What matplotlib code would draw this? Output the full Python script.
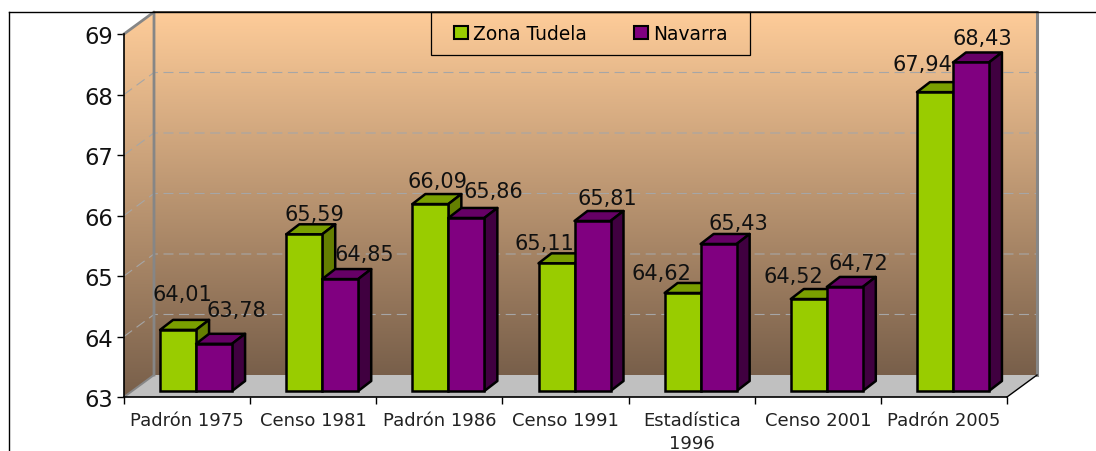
import numpy as np
import matplotlib.pyplot as plt
from matplotlib.lines import Line2D
from matplotlib.patches import Polygon, Rectangle

categorias = ['Padrón 1975', 'Censo 1981', 'Padrón 1986', 'Censo 1991',
              'Estadística\n1996', 'Censo 2001', 'Padrón 2005']
zona_tudela = [64.01, 65.59, 66.09, 65.11, 64.62, 64.52, 67.94]
navarra = [63.78, 64.85, 65.86, 65.81, 65.43, 64.72, 68.43]
etiquetas_y = [63, 64, 65, 66, 67, 68, 69]

# decalage des etiquettes en pixels par rapport au haut de la barre
decal_tudela = [(4, 36), (10, 20), (7, 23), (-12, 20), (-21, 20), (-15, 23), (-12, 28)]
decal_navarra = [(22, 34), (24, 25), (27, 27), (15, 23), (20, 21), (14, 24), (11, 24)]

W, H = 1096, 452
fig = plt.figure(figsize=(W / 100, H / 100), dpi=100, facecolor='white')
ax = fig.add_axes([124 / W, (H - 398) / H, 883 / W, 363 / H])
ax.patch.set_visible(False)

px_x = 883 / 7
px_y = 363 / 6
mur_dx, mur_dy = 30 / px_x, 22 / px_y      # profondeur du mur
pied_dx, pied_dy = 9 / px_x, 6 / px_y      # position des barres sur le sol
prof_dx, prof_dy = 13 / px_x, 10 / px_y    # profondeur des barres
larg = 36 / px_x

# degrade du fond
haut = np.array([254, 204, 153]) / 255
bas = np.array([120, 95, 74]) / 255
t = np.linspace(0, 1, 256)[:, None, None]
degrade = haut * (1 - t) + bas * t

ax.imshow(degrade, extent=(mur_dx, 7 + mur_dx, 63 + mur_dy, 69 + mur_dy),
          aspect='auto', clip_on=False, zorder=0)
mur_g = Polygon([(0, 63), (mur_dx, 63 + mur_dy), (mur_dx, 69 + mur_dy), (0, 69)],
                closed=True, facecolor='none', edgecolor='none', transform=ax.transData)
ax.add_patch(mur_g)
mur_g.set_clip_on(False)
im = ax.imshow(degrade, extent=(0, mur_dx, 63, 69 + mur_dy), aspect='auto', zorder=0)
im.set_clip_path(mur_g)
im.set_clip_box(fig.bbox)

# sol
ax.add_patch(Polygon([(0, 63), (7, 63), (7 + mur_dx, 63 + mur_dy), (mur_dx, 63 + mur_dy)],
                     closed=True, facecolor='#C0C0C0', edgecolor='none', zorder=1, clip_on=False))

# lignes de grille
for v in etiquetas_y[1:-1]:
    ax.plot([0, mur_dx, 7 + mur_dx], [v, v + mur_dy, v + mur_dy], color='#A6A6A6',
            lw=0.8, dashes=(9, 5), zorder=1.5, clip_on=False)

# bords du mur
gris = '#868686'
ax.plot([0, mur_dx, mur_dx], [69, 69 + mur_dy, 63 + mur_dy], color=gris, lw=2, zorder=2, clip_on=False)
ax.plot([0, mur_dx], [63, 63 + mur_dy], color=gris, lw=1.4, zorder=2, clip_on=False)
ax.plot([7 + mur_dx, 7 + mur_dx], [63 + mur_dy, 69 + mur_dy], color=gris, lw=2.2, zorder=2, clip_on=False)
ax.plot([7, 7 + mur_dx], [63, 63 + mur_dy], color='black', lw=1, zorder=2, clip_on=False)
ax.plot([mur_dx, 7 + mur_dx], [69 + mur_dy, 69 + mur_dy], color='#40382F', lw=1.2, zorder=2, clip_on=False)


def barre(x, val, face, dessus, cote, z):
    b = 63 + pied_dy
    s = val + pied_dy
    ax.bar(x, val - 63, width=larg, bottom=b, align='edge', color=face, edgecolor='black',
           linewidth=1.8, zorder=z + 0.2, clip_on=False)
    ax.add_patch(Polygon([(x, s), (x + larg, s), (x + larg + prof_dx, s + prof_dy), (x + prof_dx, s + prof_dy)],
                         closed=True, facecolor=dessus, edgecolor='black', lw=1.8,
                         joinstyle='round', zorder=z, clip_on=False))
    ax.add_patch(Polygon([(x + larg, b), (x + larg + prof_dx, b + prof_dy), (x + larg + prof_dx, s + prof_dy), (x + larg, s)],
                         closed=True, facecolor=cote, edgecolor='black', lw=1.8,
                         joinstyle='round', zorder=z, clip_on=False))


for i in range(len(categorias)):
    x1 = i + 0.5 + pied_dx - larg
    x2 = i + 0.5 + pied_dx
    barre(x1, zona_tudela[i], '#99CC00', '#7A9F00', '#647F00', 3)
    barre(x2, navarra[i], '#800080', '#660066', '#400040', 4)
    ax.annotate(f'{zona_tudela[i]:.2f}'.replace('.', ','), (x1 + larg / 2, zona_tudela[i] + pied_dy),
                xytext=decal_tudela[i], textcoords='offset pixels', ha='center', va='center',
                fontsize=15, color='#111111', zorder=6, annotation_clip=False)
    ax.annotate(f'{navarra[i]:.2f}'.replace('.', ','), (x2 + larg / 2, navarra[i] + pied_dy),
                xytext=decal_navarra[i], textcoords='offset pixels', ha='center', va='center',
                fontsize=15, color='#111111', zorder=6, annotation_clip=False)

ax.set_xlim(0, 7)
ax.set_ylim(63, 69)

# axes
for s in ['top', 'right']:
    ax.spines[s].set_visible(False)
ax.spines['left'].set_linewidth(1.2)
ax.spines['bottom'].set_linewidth(1.2)
ax.spines['left'].set_zorder(5)
ax.spines['bottom'].set_zorder(5)
ax.set_yticks(etiquetas_y)
ax.tick_params(axis='y', length=5, width=1, labelsize=16.3, pad=3, labelcolor='#111111')
ax.set_xticks(range(8))
ax.set_xticklabels([])
ax.tick_params(axis='x', which='major', length=5, width=1)
ax.set_xticks(np.arange(7) + 0.5, minor=True)
ax.set_xticklabels(categorias, minor=True, fontsize=13, color='#222222', linespacing=1.4)
ax.tick_params(axis='x', which='minor', length=0, pad=10)

# legende
ax.add_patch(Rectangle((430.5 / W, 1 - 55.5 / H), 319 / W, 43 / H, transform=fig.transFigure,
                       facecolor='none', edgecolor='black', lw=0.9, zorder=7, clip_on=False))
h1 = Rectangle((0, 0), 1, 1, facecolor='#99CC00', edgecolor='black', lw=1.5)
h2 = Rectangle((0, 0), 1, 1, facecolor='#800080', edgecolor='black', lw=1.5)
leg = ax.legend([h1, h2], ['Zona Tudela', 'Navarra'], ncol=2, frameon=False, fontsize=13.4,
                loc='center', bbox_to_anchor=(591 / W, 1 - 34.5 / H), bbox_transform=fig.transFigure,
                handlelength=0.75, handleheight=0.75, handletextpad=0.3, columnspacing=2.5,
                borderpad=0, borderaxespad=0)
leg.set_zorder(8)

# cadre exterieur
fig.add_artist(Line2D([8.5 / W, 8.5 / W], [0, 1 - 12.5 / H], color='black', lw=1))
fig.add_artist(Line2D([8.5 / W, 1], [1 - 12.5 / H, 1 - 12.5 / H], color='black', lw=1))

fig.savefig('out.png', dpi=100)
